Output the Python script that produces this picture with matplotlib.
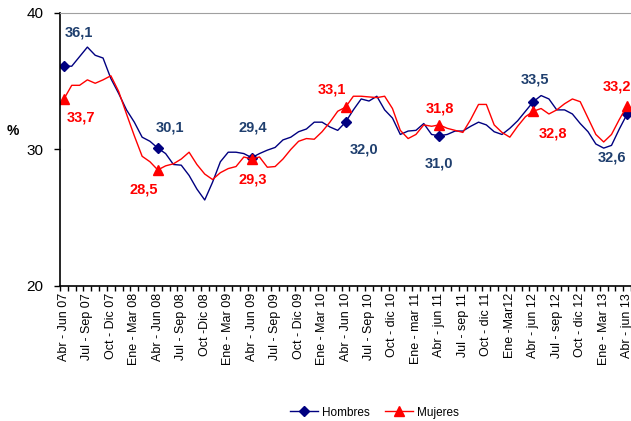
import matplotlib.pyplot as plt
from matplotlib.ticker import FixedLocator

plt.rcParams['font.family'] = ['Liberation Sans', 'DejaVu Sans']

# trimestres moviles, abr-jun 07 .. abr-jun 13 (73 puntos)
etiquetas = ['Abr - Jun 07', 'Jul - Sep 07', 'Oct - Dic 07', 'Ene - Mar 08',
             'Abr - Jun 08', 'Jul - Sep 08', 'Oct -Dic 08', 'Ene - Mar 09',
             'Abr - Jun 09', 'Jul - Sep 09', 'Oct - Dic 09', 'Ene - Mar 10',
             'Abr - Jun 10', 'Jul - Sep 10', 'Oct - dic 10', 'Ene - mar 11',
             'Abr - jun 11', 'Jul - sep 11', 'Oct - dic 11', 'Ene -Mar12',
             'Abr - jun 12', 'Jul - sep 12', 'Oct - dic 12', 'Ene - Mar 13',
             'Abr - jun 13']

hombres = [36.1, 36.1, 36.8, 37.5, 36.9, 36.7, 35.2, 34.1, 32.9, 32.0,
           30.9, 30.6, 30.1, 29.7, 28.9, 28.85, 28.1, 27.1, 26.3, 27.6,
           29.1, 29.8, 29.8, 29.7, 29.4, 29.7, 29.95, 30.15, 30.7, 30.9,
           31.3, 31.5, 32.0, 32.0, 31.65, 31.4, 32.0, 32.9, 33.7, 33.55,
           33.9, 32.9, 32.3, 31.1, 31.35, 31.4, 31.9, 31.1, 31.0, 31.1,
           31.35, 31.35, 31.7, 32.0, 31.8, 31.3, 31.1, 31.55, 32.1, 32.8,
           33.5, 33.95, 33.7, 32.9, 32.9, 32.6, 31.9, 31.3, 30.4, 30.1,
           30.3, 31.5, 32.6]

mujeres = [33.7, 34.7, 34.7, 35.1, 34.85, 35.1, 35.4, 34.25, 32.6, 31.0,
           29.5, 29.1, 28.5, 28.8, 28.95, 29.3, 29.8, 28.9, 28.2, 27.8,
           28.3, 28.6, 28.75, 29.45, 29.3, 29.45, 28.7, 28.75, 29.3, 30.0,
           30.6, 30.8, 30.75, 31.3, 32.0, 32.8, 33.1, 33.9, 33.9, 33.85,
           33.8, 33.9, 33.0, 31.4, 30.8, 31.1, 31.8, 31.7, 31.8, 31.55,
           31.4, 31.25, 32.2, 33.3, 33.3, 31.8, 31.25, 30.9, 31.7, 32.4,
           32.8, 33.0, 32.6, 32.9, 33.35, 33.7, 33.5, 32.3, 31.1, 30.55,
           31.1, 32.2, 33.2]

# valores destacados (abr-jun de cada ano)
marcas = [0, 12, 24, 36, 48, 60, 72]
off_h = [(11, 24), (9, 15), (1, 22), (13, -20), (0, -20), (1, 16), (-11, -31)]
off_m = [(12, -13), (-10, -14), (1, -15), (-10, 13), (0, 12), (14, -16), (-7, 14)]

azul = '#000080'
azul_txt = '#1F3F6E'
rojo = '#FF0000'

fig = plt.figure(figsize=(6.31, 4.21), dpi=100)
ax = fig.add_axes([0.0951, 0.3207, 0.905, 0.6485])

x = list(range(len(hombres)))
ax.plot(x, hombres, color=azul, lw=1.0, marker='D', ms=5,
        markevery=marcas, label='Hombres')
ax.plot(x, mujeres, color=rojo, lw=1.0, marker='^', ms=7,
        markevery=marcas, label='Mujeres')

for i, o in zip(marcas, off_h):
    ax.annotate(f'{hombres[i]:.1f}'.replace('.', ','), (i, hombres[i]),
                xytext=o, textcoords='offset points', ha='center', va='center',
                fontsize=10.5, fontweight='bold', color=azul_txt, annotation_clip=False)
for i, o in zip(marcas, off_m):
    ax.annotate(f'{mujeres[i]:.1f}'.replace('.', ','), (i, mujeres[i]),
                xytext=o, textcoords='offset points', ha='center', va='center',
                fontsize=10.5, fontweight='bold', color=rojo, annotation_clip=False)

ax.set_xlim(-0.5, len(hombres) - 0.5)
ax.set_ylim(20, 40)
ax.set_yticks([20, 30, 40])
ax.tick_params(axis='y', labelsize=11, length=4, width=1, direction='out', pad=8)

ax.set_xticks(range(0, len(hombres), 3))
ax.set_xticklabels(etiquetas, rotation=90, fontsize=9)
ax.xaxis.set_minor_locator(FixedLocator([i - 0.5 for i in range(len(hombres) + 1)]))
ax.tick_params(axis='x', which='major', length=0, pad=5)
ax.tick_params(axis='x', which='minor', length=3.5, width=1, direction='out')

ax.spines['right'].set_visible(False)
ax.spines['top'].set_color('#A0A0A0')
ax.spines['left'].set_linewidth(1.2)
ax.spines['bottom'].set_linewidth(1.2)

fig.text(0.02, 0.69, '%', fontsize=10, fontweight='bold', ha='center', va='center')

fig.legend(loc='center', bbox_to_anchor=(0.593, 0.02), ncol=2, frameon=False,
           fontsize=8.5, handlelength=2.4, columnspacing=1.3, handletextpad=0.3)

fig.savefig('out.png', dpi=100)
